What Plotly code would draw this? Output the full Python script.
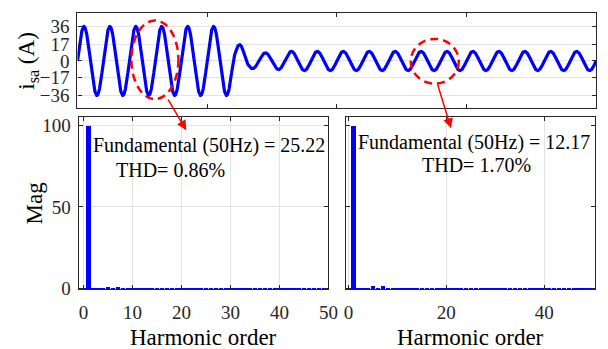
import numpy as np
import plotly.graph_objects as go

# ---------------- data ----------------
# half-cycle peak amplitudes of i_sa (A), 50 Hz, 0..0.4 s (40 half cycles)
half_cycle_peaks = [36, 36, 36, 36, 36, 36, 36, 36, 36, 36, 36, 36,
                    17, 8, 8.5, 9,
                    10, 10, 10, 10, 10, 10, 10, 10, 10, 10, 10, 10,
                    10, 10, 10, 10, 10, 10, 10, 10, 10, 10, 10, 10]
freq_hz = 50
t_end = 0.4
y_ticks_top = [-36, -17, 0, 17, 36]

harmonics = list(range(0, 51))
mag_left = [0.2, 100, 0.2, 0.3, 0.2, 0.5, 0.2, 0.45, 0.2, 0.2,
            0.2, 0.2, 0.2, 0.2, 0.2, 0.2, 0.2, 0.2, 0.2, 0.2,
            0.2, 0.2, 0.2, 0.2, 0.2, 0.2, 0.2, 0.2, 0.2, 0.2,
            0.2, 0.2, 0.2, 0.2, 0.2, 0.2, 0.2, 0.2, 0.2, 0.2,
            0.2, 0.2, 0.2, 0.2, 0.2, 0.2, 0.2, 0.2, 0.2, 0.2, 0.2]
mag_right = [0.2, 100, 0.2, 0.3, 0.2, 1.5, 0.2, 1.3, 0.2, 0.2,
             0.2, 0.2, 0.2, 0.2, 0.2, 0.2, 0.2, 0.2, 0.2, 0.2,
             0.2, 0.2, 0.2, 0.2, 0.2, 0.2, 0.2, 0.2, 0.2, 0.2,
             0.2, 0.2, 0.2, 0.2, 0.2, 0.2, 0.2, 0.2, 0.2, 0.2,
             0.2, 0.2, 0.2, 0.2, 0.2, 0.2, 0.2, 0.2, 0.2, 0.2, 0.2]
text_left = ["Fundamental (50Hz) = 25.22", "THD= 0.86%"]
text_right = ["Fundamental (50Hz) = 12.17", "THD= 1.70%"]

# ---------------- build waveform from read peaks ----------------
t = np.linspace(0, t_end, 4001)
half = 1 / (2 * freq_hz)
idx = np.minimum((t / half).astype(int), len(half_cycle_peaks) - 1)
amp = np.array(half_cycle_peaks)[idx]
i_sa = amp * np.sin(2 * np.pi * freq_hz * t)

W, H = 608, 349
def px(x):
    return x / W
def py(y):
    return 1 - y / H

FONT = "Liberation Serif"
INK = "#262626"
GRID = "#e3e3e3"
BLUE = "#0000ff"

fig = go.Figure()
fig.add_trace(go.Scatter(x=t, y=i_sa, mode="lines",
                         line=dict(color=BLUE, width=3.2), xaxis="x", yaxis="y",
                         showlegend=False, hoverinfo="skip"))
fig.add_trace(go.Bar(x=harmonics, y=mag_left, marker=dict(color=BLUE, line=dict(width=0)),
                     width=0.9, xaxis="x2", yaxis="y2", showlegend=False))
fig.add_trace(go.Bar(x=harmonics, y=mag_right, marker=dict(color=BLUE, line=dict(width=0)),
                     width=0.9, xaxis="x3", yaxis="y3", showlegend=False))

common = dict(showline=True, linecolor=INK, linewidth=1.3, mirror="ticks",
              ticks="inside", ticklen=4, tickcolor=INK, zeroline=False,
              tickfont=dict(family=FONT, size=19, color=INK), gridcolor=GRID, gridwidth=1)

fig.update_layout(
    width=W, height=H, margin=dict(l=0, r=0, t=0, b=0),
    paper_bgcolor="white", plot_bgcolor="white", bargap=0,
    font=dict(family=FONT),
    xaxis=dict(domain=[px(77), px(606)], range=[0, t_end], anchor="y",
               showticklabels=False, showgrid=False, **common),
    yaxis=dict(domain=[py(110), py(12)], range=[-49, 50.5], anchor="x",
               tickvals=y_ticks_top, showgrid=True, ticklabelstandoff=3, **common),
    xaxis2=dict(domain=[px(78.3), px(333)], range=[-0.95, 50], anchor="y2",
                tickvals=[0, 10, 20, 30, 40, 50], showgrid=True, ticklabelstandoff=6, **common),
    yaxis2=dict(domain=[py(297), py(119)], range=[-0.8, 105.5], anchor="x2",
                tickvals=[0, 50, 100], showgrid=True, ticklabelstandoff=3, **common),
    xaxis3=dict(domain=[px(350.7), px(605)], range=[-0.55, 50.4], anchor="y3",
                tickvals=[0, 20, 40], showgrid=True, ticklabelstandoff=6, **common),
    yaxis3=dict(domain=[py(297), py(119)], range=[-0.8, 105.5], anchor="x3",
                tickvals=[0, 50, 100], showgrid=False, showticklabels=False, **common),
)

ann = []
def label(x, y, text, size, angle=0, yanchor="middle"):
    ann.append(dict(x=px(x), y=py(y), xref="paper", yref="paper", text=text,
                    showarrow=False, textangle=angle, xanchor="center", yanchor=yanchor,
                    font=dict(family=FONT, size=size, color="black")))

label(211, 149, text_left[0], 20)
label(171.5, 174, text_left[1], 20)
label(482, 146, text_right[0], 20)
label(484, 169, text_right[1], 20)
label(205.5, 361, "Harmonic order", 23, yanchor="bottom")
label(478, 361, "Harmonic order", 23, yanchor="bottom")
label(33, 208, "Mag", 23, -90)
label(27, 62, "i<sub>sa</sub> (A)", 23, -90)

# red arrows
for tip, tail in [((188, 133), (169, 101)), ((458, 131), (444, 85))]:
    ann.append(dict(x=px(tip[0]), y=py(tip[1]), xref="paper", yref="paper",
                    ax=tail[0] - tip[0], ay=tail[1] - tip[1], text="", showarrow=True,
                    arrowhead=2, arrowsize=1.3, arrowwidth=1.5, arrowcolor="#ff0000"))
fig.update_layout(annotations=ann)

# dashed red ellipses
for (x0, y0, x1, y1) in [(132, 20, 180, 101), (417, 39, 466, 85)]:
    fig.add_shape(type="circle", xref="paper", yref="paper",
                  x0=px(x0), x1=px(x1), y0=py(y1), y1=py(y0),
                  line=dict(color="#ff0000", width=2.5, dash="8px,5px"))

fig.write_html("out.html")
